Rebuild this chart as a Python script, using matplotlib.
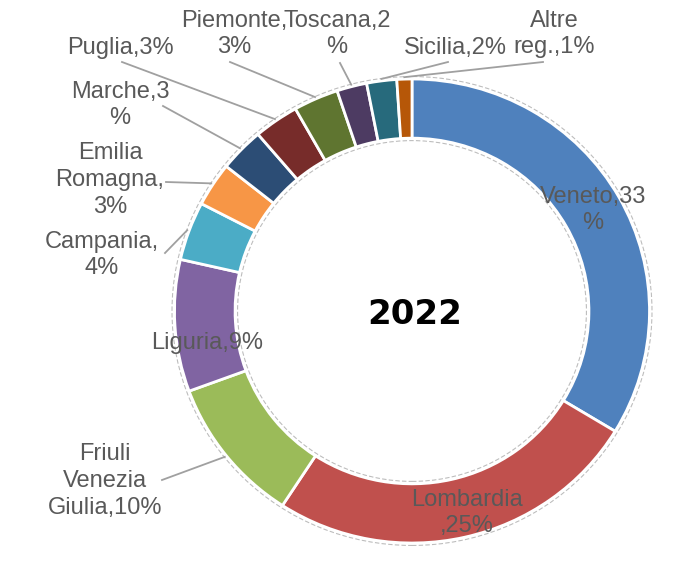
import matplotlib
matplotlib.use("Agg")
import matplotlib.pyplot as plt
import numpy as np
from matplotlib.patches import Ellipse
from matplotlib.lines import Line2D

# Share of the total by region, 2022
regions = ["Veneto", "Lombardia", "Friuli Venezia Giulia", "Liguria", "Campania",
           "Emilia Romagna", "Marche", "Puglia", "Piemonte", "Toscana",
           "Sicilia", "Altre reg."]
shares = [33, 25, 10, 9, 4, 3, 3, 3, 3, 2, 2, 1]
labels = ["Veneto,33\n%", "Lombardia\n,25%", "Friuli\nVenezia\nGiulia,10%",
          "Liguria,9%", "Campania,\n4%", "Emilia\nRomagna,\n3%", "Marche,3\n%",
          "Puglia,3%", "Piemonte,\n3%", "Toscana,2\n%", "Sicilia,2%",
          "Altre\nreg.,1%"]
colors = ["#4F81BD", "#C0504D", "#9BBB59", "#8064A2", "#4BACC6", "#F79646",
          "#2C4D75", "#772C2A", "#5F7530", "#4D3B62", "#276A7C", "#B65708"]
year = "2022"

W, H = 673, 563
fig = plt.figure(figsize=(W / 100, H / 100), dpi=100)
ax = fig.add_axes([0, 0, 1, 1])

# ring geometry (pixels); the ring is very slightly squashed vertically
R = 237.5
vscale = 232 / 237.5
cx, cy_img = 412, 311
cy = (H - cy_img) / vscale
ring = 0.255 * R

wedges, _ = ax.pie(shares, colors=colors, startangle=90, counterclock=False,
                   radius=R, center=(cx, cy),
                   wedgeprops=dict(width=ring, edgecolor="white", linewidth=2))
ax.set_aspect("auto")
ax.set_xlim(0, W)
ax.set_ylim(0, H / vscale)
ax.axis("off")

# faint dashed outlines around the ring
for rr in (R + 2.5, R - ring - 2.5):
    ax.add_patch(Ellipse((cx, cy), 2 * rr, 2 * rr, fill=False,
                         edgecolor="#BDBDBD", linestyle=(0, (4, 2)),
                         linewidth=0.8, zorder=0))

txt_color = "#595959"
font = dict(family=["Liberation Sans", "DejaVu Sans"], size=17, color=txt_color)

# label centres in image pixels, and where a leader line starts (None = inside)
label_pos = [(593, 210), (467, 513), (105, 481), (207, 343), (102, 255),
             (110, 180), (120, 105), (120, 48), (234, 34), (337, 34),
             (455, 48), (554, 34)]
leader_start = [None, None, (162, 480), None, (165, 253), (166, 182),
                (163, 106), (122, 62), (230, 62), (340, 63), (448, 62),
                (543, 62)]

fig.canvas.draw()
for w, lab, (lx, ly), ls in zip(wedges, labels, label_pos, leader_start):
    fig.text(lx / W, 1 - ly / H, lab, ha="center", va="center",
             multialignment="center", linespacing=1.27, **font)
    if ls is not None:
        mid = np.deg2rad((w.theta1 + w.theta2) / 2)
        px, py = ax.transData.transform((cx + (R + 2) * np.cos(mid),
                                         cy + (R + 2) * np.sin(mid)))
        fig.add_artist(Line2D([ls[0] / W, px / W], [1 - ls[1] / H, py / H],
                              transform=fig.transFigure, color="#A0A0A0",
                              linewidth=1.3))

fig.text(415 / W, 1 - 315 / H, year, ha="center", va="center",
         fontsize=24.5, fontweight="bold", family="DejaVu Sans", color="black")

fig.savefig("out.png", dpi=100)
